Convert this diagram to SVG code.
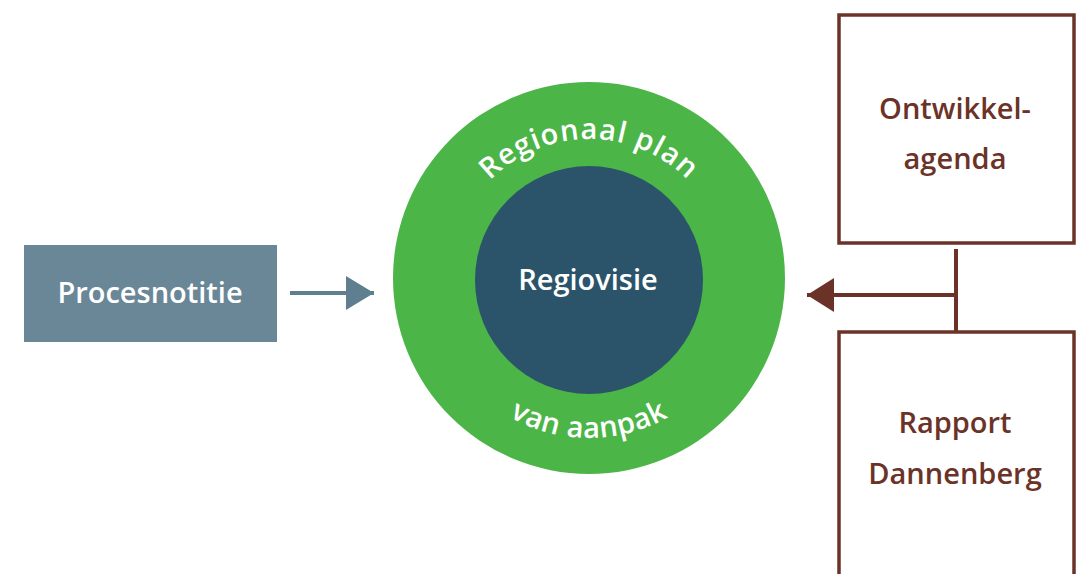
<svg xmlns="http://www.w3.org/2000/svg" width="1083" height="574" viewBox="0 0 1083 574">
<style>
text{font-family:"Open Sans","Noto Sans","Liberation Sans",sans-serif;font-weight:600;}
.w{fill:#ffffff;font-size:29px;}
.b{fill:#6b3328;font-size:29px;text-anchor:middle;}
.box{fill:#ffffff;stroke:#6b3328;stroke-width:3.5;}
</style>
<defs>
<path id="arcTop" d="M 450 278 A 139 139 0 0 1 728 278"/>
<path id="arcBot" d="M 429 278 A 160 160 0 0 0 749 278"/>
<marker id="ab" markerUnits="userSpaceOnUse" markerWidth="30" markerHeight="36" refX="28" refY="17" orient="auto"><path d="M0,0 L28,17 L0,34 Z" fill="#5f7f91"/></marker>
<marker id="ar" markerUnits="userSpaceOnUse" markerWidth="30" markerHeight="36" refX="27" refY="17" orient="auto"><path d="M0,0 L27,17 L0,34 Z" fill="#6b3328"/></marker>
</defs>
<g id="plan">
<circle cx="589" cy="278" r="196" fill="#4cb548"/>
<text class="w" letter-spacing="1"><textPath href="#arcTop" startOffset="50%" text-anchor="middle">Regionaal plan</textPath></text>
<text class="w" letter-spacing="0.5"><textPath href="#arcBot" startOffset="50%" text-anchor="middle">van aanpak</textPath></text>
</g>
<g id="regiovisie">
<circle cx="589" cy="280" r="114" fill="#2b546b"/>
<text class="w" x="588" y="290" text-anchor="middle" font-size="30">Regiovisie</text>
</g>
<g id="procesnotitie">
<rect x="24" y="245" width="253" height="97" fill="#6a8797"/>
<text class="w" x="150" y="303" text-anchor="middle" font-size="30">Procesnotitie</text>
</g>
<g id="ontwikkelagenda">
<rect class="box" x="839" y="15" width="235" height="228"/>
<text class="b" x="955" y="119">Ontwikkel-</text>
<text class="b" x="955" y="169">agenda</text>
</g>
<g id="rapport">
<rect class="box" x="839" y="332" width="235" height="260"/>
<text class="b" x="955" y="433">Rapport</text>
<text class="b" x="955" y="484">Dannenberg</text>
</g>
<g id="connectors">
<line x1="290" y1="293" x2="374" y2="293" stroke="#5f7f91" stroke-width="4" marker-end="url(#ab)"/>
<line x1="956" y1="249" x2="956" y2="331" stroke="#6b3328" stroke-width="4"/>
<line x1="957" y1="295" x2="807" y2="295" stroke="#6b3328" stroke-width="4" marker-end="url(#ar)"/>
</g>
</svg>
